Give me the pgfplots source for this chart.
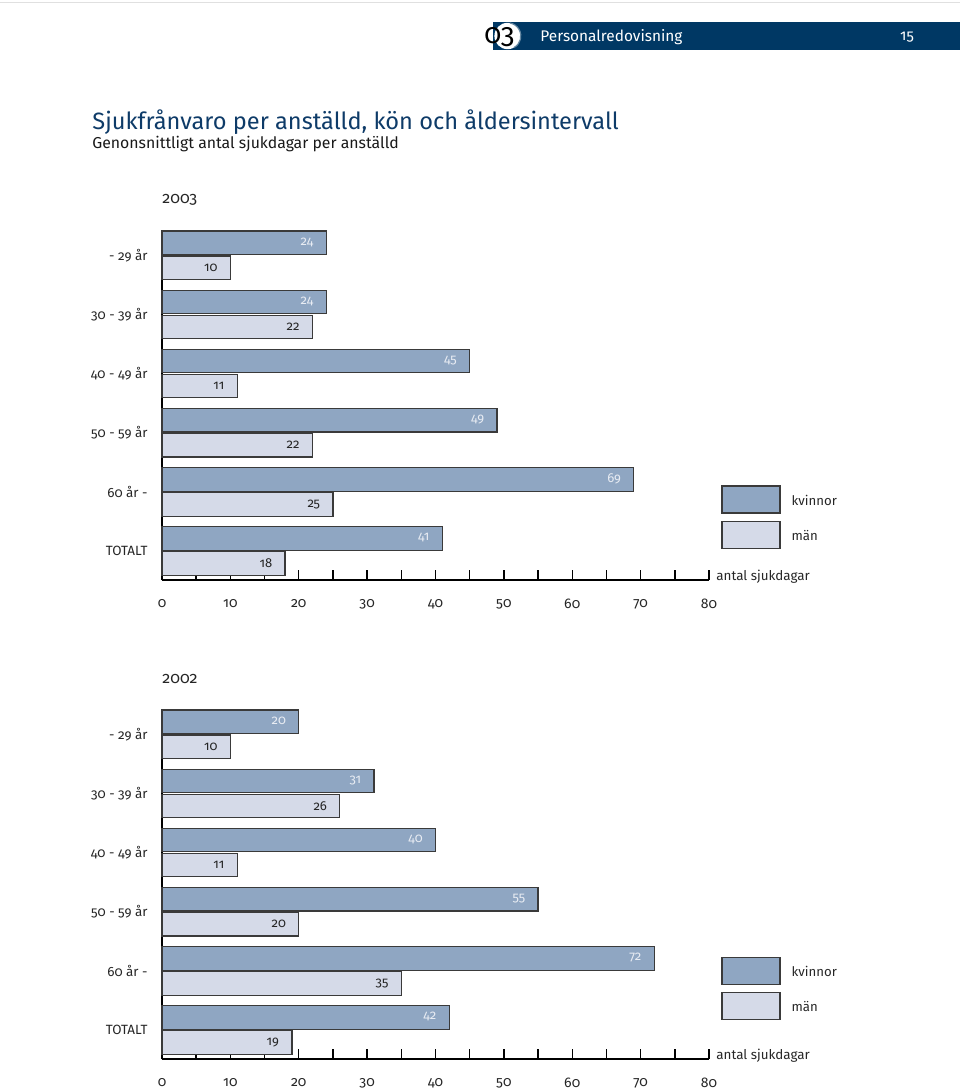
\documentclass[border=0pt]{standalone}
\usepackage{fontspec}
\setmainfont{Fira Sans}[Numbers=OldStyle]
\usepackage{pgfplots}
\usepackage{pgfplotstable}
\pgfplotsset{compat=1.18}
\definecolor{kv}{HTML}{8FA6C2}
\definecolor{ma}{HTML}{D5DAE8}
\definecolor{hdr}{HTML}{003864}
\definecolor{ttl}{HTML}{0E3B68}
\definecolor{bd}{HTML}{3A3A3A}
\definecolor{kvtxt}{HTML}{E8ECF3}

\pgfplotstableread{
y kv ma
5 24 10
4 24 22
3 45 11
2 49 22
1 69 25
0 41 18
}\dataA
\pgfplotstableread{
y kv ma
5 20 10
4 31 26
3 40 11
2 55 20
1 72 35
0 42 19
}\dataB

\pgfplotsset{
  agestyle/.style={
    scale only axis, width=273.5pt, height=174.5pt,
    xmin=0, xmax=80, ymin=-0.49, ymax=5.41,
    axis x line=bottom, axis y line=left, axis line style={-},
    x axis line style={line width=1pt, black},
    y axis line style={line width=0.75pt, black},
    xtick={0,10,...,80}, minor xtick={5,15,...,75},
    tick align=inside, major tick length=5pt, minor tick length=5pt,
    xtick style={line width=0.7pt, black},
    ytick={0,...,5},
    yticklabels={TOTALT, 60 år -, 50 - 59 år, 40 - 49 år, 30 - 39 år, - 29 år},
    ytick style={draw=none},
    /pgf/number format/assume math mode=true,
    xticklabel style={font=\fontsize{7}{8}\selectfont, text=black!85, yshift=-6pt},
    yticklabel style={font=\fontsize{6.7}{8}\selectfont, text=black!85, inner sep=0pt, xshift=-7pt},
    xlabel={antal sjukdagar},
    xlabel style={at={(axis description cs:1,0)}, anchor=base west, inner sep=0pt, xshift=3.5pt,
      font=\fontsize{6.7}{8}\selectfont, text=black!85},
    title style={at={(axis description cs:0,1)}, anchor=base west, inner sep=0pt, yshift=7.5pt,
      font=\fontsize{8}{9}\selectfont, text=black!85},
    legend cell align=left,
    legend style={draw=none, fill=none, anchor=north west, inner sep=0pt,
      row sep=3.5pt, column sep=5.5pt, nodes={inner sep=0pt, yshift=-1pt},
      font=\fontsize{6.6}{8}\selectfont, text=black!85},
    clip=false,
  },
  kvbar/.style={xbar, bar width=11.75pt, bar shift=6.25pt, fill=kv, draw=bd, line width=0.6pt,
    point meta=x, nodes near coords={\pgfmathprintnumber{\pgfplotspointmeta}},
    every node near coord/.append style={anchor=east, xshift=-2.8pt, yshift=6.6pt, text=kvtxt,
      font=\fontsize{6.5}{7}\selectfont},
    legend image code/.code={\draw[fill=kv, draw=bd, line width=0.6pt] (0pt,-6.75pt) rectangle (29pt,6.75pt);}},
  mabar/.style={xbar, bar width=11.75pt, bar shift=-6.25pt, fill=ma, draw=bd, line width=0.6pt,
    point meta=x, nodes near coords={\pgfmathprintnumber{\pgfplotspointmeta}},
    every node near coord/.append style={anchor=east, xshift=-2.8pt, yshift=-6.25pt, text=black!85,
      font=\fontsize{6.5}{7}\selectfont},
    legend image code/.code={\draw[fill=ma, draw=bd, line width=0.6pt] (0pt,-6.75pt) rectangle (29pt,6.75pt);}},
}

\begin{document}
\begin{tikzpicture}
\path[use as bounding box] (0,0) rectangle (480pt,-545pt);
% header
\draw[black!12, line width=0.5pt] (0,-1.5pt) -- (480pt,-1.5pt);
\fill[hdr] (246.5pt,-11pt) rectangle (480pt,-25pt);
\fill[white] (253.8pt,-18pt) circle (6.6pt);
\draw[hdr!60, line width=0.6pt] (253.8pt,-18pt) ++(-60:6.6pt) arc (-60:80:6.6pt);
\node[anchor=base west, inner sep=0pt, font=\fontsize{14}{15}\selectfont, text=black] at (242pt,-22pt) {03};
\node[anchor=west, inner sep=0pt, font=\fontsize{7.7}{9}\selectfont, text=white] at (270pt,-18.5pt) {Personalredovisning};
\node[anchor=center, inner sep=0pt, font=\fontsize{7.5}{9}\selectfont, text=white] at (453.5pt,-18.5pt) {15};
% titles
\node[anchor=base west, inner sep=0pt, font=\fontsize{11.8}{13}\selectfont, text=ttl] at (46pt,-64.8pt) {Sjukfrånvaro per anställd, kön och åldersintervall};
\node[anchor=base west, inner sep=0pt, font=\fontsize{7.9}{9}\selectfont, text=black!90] at (46pt,-74.2pt) {Genonsnittligt antal sjukdagar per anställd};

\begin{axis}[agestyle, at={(81pt,-290pt)}, anchor=south west, title={2003},
  legend style={at={(axis description cs:1.022,0.272)}}]
\addplot[kvbar] table[x=kv, y=y] {\dataA};
\addplot[mabar] table[x=ma, y=y] {\dataA};
\legend{kvinnor, män}
\end{axis}

\begin{axis}[agestyle, at={(81pt,-529.5pt)}, anchor=south west, title={2002},
  legend style={at={(axis description cs:1.022,0.294)}}]
\addplot[kvbar] table[x=kv, y=y] {\dataB};
\addplot[mabar] table[x=ma, y=y] {\dataB};
\legend{kvinnor, män}
\end{axis}
\end{tikzpicture}
\end{document}
